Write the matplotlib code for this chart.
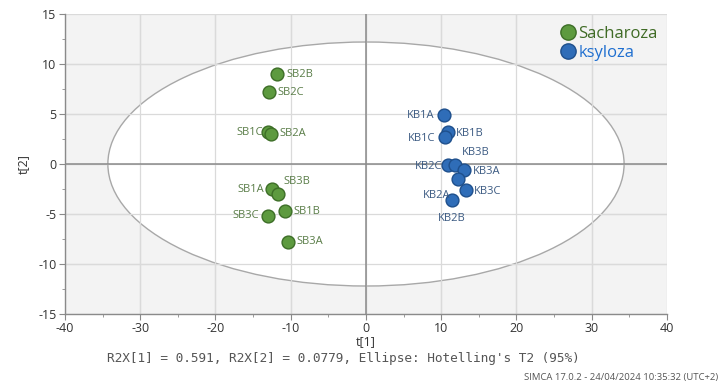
import numpy as np
import matplotlib
matplotlib.use("Agg")
import matplotlib.pyplot as plt
from matplotlib.patches import Ellipse
from matplotlib.lines import Line2D
from matplotlib.ticker import MultipleLocator

plt.rcParams['font.family'] = ['Open Sans', 'DejaVu Sans']
plt.rcParams['axes.unicode_minus'] = False

# --- score data (t[1], t[2]) ---
sach_names = ['SB2B', 'SB2C', 'SB1C', 'SB2A', 'SB1A', 'SB3B', 'SB1B', 'SB3C', 'SB3A']
sach_t1 = [-11.8, -12.9, -12.97, -12.65, -12.48, -11.7, -10.72, -12.99, -10.4]
sach_t2 = [8.96, 7.17, 3.17, 3.03, -2.5, -3.0, -4.7, -5.17, -7.77]

ksyl_names = ['KB1A', 'KB1B', 'KB1C', 'KB2C', 'KB3B', 'KB3A', 'KB2A', 'KB3C', 'KB2B']
ksyl_t1 = [10.4, 10.85, 10.53, 10.93, 11.82, 13.06, 12.17, 13.24, 11.46]
ksyl_t2 = [4.87, 3.23, 2.73, -0.1, -0.1, -0.6, -1.47, -2.6, -3.6]

# Hotelling T2 (95%) ellipse semi-axes
ell_a = 34.3
ell_b = 12.2

# label offsets in points (dx, dy, ha)
sach_off = {'SB2B': (7, 0, 'left'), 'SB2C': (6, 0, 'left'), 'SB1C': (-4, 0, 'right'),
            'SB2A': (6, 0, 'left'), 'SB1A': (-6, 0, 'right'), 'SB3B': (14, 9, 'center'),
            'SB1B': (6, 0, 'left'), 'SB3C': (-7, 0, 'right'), 'SB3A': (6, 0, 'left')}
ksyl_off = {'KB1A': (-7, 0, 'right'), 'KB1B': (6, -1, 'left'), 'KB1C': (-7, -1, 'right'),
            'KB2C': (-4, -1, 'right'), 'KB3B': (15, 9, 'center'), 'KB3A': (6, -1, 'left'),
            'KB2A': (-5, -12, 'right'), 'KB3C': (6, -1, 'left'), 'KB2B': (0, -13, 'center')}

green = '#5d9a3f'
green_edge = '#3d6e27'
blue = '#2f6db8'
blue_edge = '#1e4f8c'

fig = plt.figure(figsize=(7.22, 3.88), dpi=100)
ax = fig.add_axes([0.0900, 0.1907, 0.8338, 0.7732])
ax.set_facecolor('#f3f3f3')

ax.set_xlim(-40, 40)
ax.set_ylim(-15, 15)
ax.xaxis.set_major_locator(MultipleLocator(10))
ax.xaxis.set_minor_locator(MultipleLocator(5))
ax.yaxis.set_major_locator(MultipleLocator(5))
ax.yaxis.set_minor_locator(MultipleLocator(2.5))
ax.grid(True, which='major', color='#dadada', lw=0.9, zorder=0)
ax.set_axisbelow(True)

ax.add_patch(Ellipse((0, 0), 2 * ell_a, 2 * ell_b, facecolor='white',
                     edgecolor='#a8a8a8', lw=1.0, zorder=1))
# grid on top of the white ellipse
for xv in range(-30, 40, 10):
    ax.axvline(xv, color='#dadada', lw=0.9, zorder=1.5)
for yv in range(-10, 15, 5):
    ax.axhline(yv, color='#dadada', lw=0.9, zorder=1.5)
ax.axhline(0, color='#8a8a8a', lw=1.1, zorder=2)
ax.axvline(0, color='#8a8a8a', lw=1.1, zorder=2)

ax.scatter(sach_t1, sach_t2, s=85, c=green, edgecolors=green_edge, linewidths=1.0, zorder=3)
ax.scatter(ksyl_t1, ksyl_t2, s=85, c=blue, edgecolors=blue_edge, linewidths=1.0, zorder=3)

for n, x, y in zip(sach_names, sach_t1, sach_t2):
    dx, dy, ha = sach_off[n]
    ax.annotate(n, (x, y), xytext=(dx, dy), textcoords='offset points', ha=ha, va='center',
                fontsize=8, color='#5a7d48', zorder=4)
for n, x, y in zip(ksyl_names, ksyl_t1, ksyl_t2):
    dx, dy, ha = ksyl_off[n]
    ax.annotate(n, (x, y), xytext=(dx, dy), textcoords='offset points', ha=ha, va='center',
                fontsize=8, color='#3b5a82', zorder=4)

for s in ['top', 'right']:
    ax.spines[s].set_visible(False)
for s in ['left', 'bottom']:
    ax.spines[s].set_color('#8a8a8a')
    ax.spines[s].set_linewidth(1.0)
ax.tick_params(which='major', length=4, color='#8a8a8a', labelsize=9, labelcolor='#333333', pad=2)
ax.tick_params(which='minor', length=2.5, color='#8a8a8a')

ax.set_xlabel('t[1]', fontsize=9, color='#333333', labelpad=0)
ax.set_ylabel('t[2]', fontsize=9, color='#333333', labelpad=6)

handles = [Line2D([], [], ls='', marker='o', ms=11, mfc=green, mec=green_edge),
           Line2D([], [], ls='', marker='o', ms=11, mfc=blue, mec=blue_edge)]
fig.legend(handles, ['Sacharoza', 'ksyloza'], loc='upper left', bbox_to_anchor=(0.763, 0.95),
           frameon=False, fontsize=12, labelcolor=['#3f6b25', '#1f6fd0'],
           handletextpad=0.05, labelspacing=0.18, borderaxespad=0, handlelength=1.2)

fig.text(0.476, 0.075, "R2X[1] = 0.591, R2X[2] = 0.0779, Ellipse: Hotelling's T2 (95%)",
         family='DejaVu Sans Mono', fontsize=9.2, color='#555555', ha='center', va='center')
fig.text(0.994, 0.016, 'SIMCA 17.0.2 - 24/04/2024 10:35:32 (UTC+2)',
         fontsize=6.8, color='#555555', ha='right', va='bottom')

fig.savefig('out.png', dpi=100)
